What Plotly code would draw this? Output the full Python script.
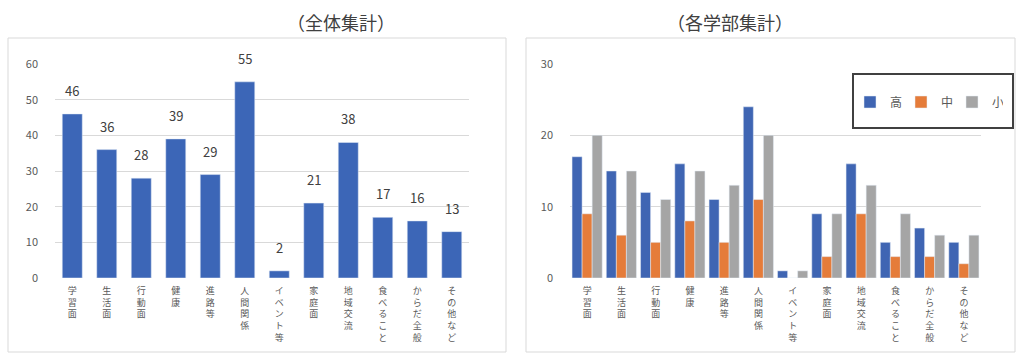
import plotly.graph_objects as go

categories = ["学習面", "生活面", "行動面", "健康", "進路等", "人間関係", "イベント等",
              "家庭面", "地域交流", "食べること", "からだ全般", "その他など"]
total = [46, 36, 28, 39, 29, 55, 2, 21, 38, 17, 16, 13]
high = [17, 15, 12, 16, 11, 24, 1, 9, 16, 5, 7, 5]
middle = [9, 6, 5, 8, 5, 11, 0, 3, 9, 3, 3, 2]
small = [20, 15, 11, 15, 13, 20, 1, 9, 13, 9, 6, 6]
series_names = ["高", "中", "小"]
left_ticks = [0, 10, 20, 30, 40, 50, 60]
right_ticks = [0, 10, 20, 30]

W, H = 1020, 361
PT, PB = 64, 278  # plot top / bottom pixel rows


def py(p):
    return (PB - p) / (PB - PT)


def px(p):
    return p / W


vert = ["<br>".join(list(c)) for c in categories]
font = "Noto Sans CJK JP"
txt = "#595959"

fig = go.Figure()
fig.add_trace(go.Bar(x=categories, y=total, marker_color="#3C66B7", width=0.58,
                     xaxis="x", yaxis="y", showlegend=False))
colors = ["#3F65B3", "#E57C3A", "#A5A5A5"]
for name, vals, col in zip(series_names, [high, middle, small], colors):
    fig.add_trace(go.Bar(x=categories, y=vals, name=name, marker_color=col,
                         xaxis="x2", yaxis="y2"))

annos = []
for c, v in zip(categories, total):
    annos.append(dict(x=c, y=v, xref="x", yref="y", text=str(v), showarrow=False,
                      yanchor="bottom", yshift=12, font=dict(size=13, color="#404040")))
annos.append(dict(x=px(285), y=py(22), xref="paper", yref="paper", text="（全体集計）",
                  showarrow=False, yanchor="middle", font=dict(size=18, color="#404040")))
annos.append(dict(x=px(795), y=py(22), xref="paper", yref="paper", text="（各学部集計）",
                  showarrow=False, yanchor="middle", font=dict(size=18, color="#404040")))

shapes = [
    dict(type="rect", xref="paper", yref="paper", x0=px(8), x1=px(506), y0=py(352), y1=py(38),
         line=dict(color="#D9D9D9", width=1), layer="below"),
    dict(type="rect", xref="paper", yref="paper", x0=px(526), x1=px(1015), y0=py(352), y1=py(38),
         line=dict(color="#D9D9D9", width=1), layer="below"),
    dict(type="rect", xref="paper", yref="paper", x0=px(853), x1=px(1013), y0=py(128), y1=py(74),
         line=dict(color="#404040", width=2), fillcolor="white", layer="below"),
]

xcommon = dict(type="category", range=[-0.5, 11.5], tickmode="array", tickvals=categories,
               ticktext=vert, tickangle=0, showgrid=False, zeroline=False, showline=False,
               ticks="", tickfont=dict(size=9, color=txt, family=font), fixedrange=True,
               ticklabelstandoff=6)
ycommon = dict(showgrid=True, gridcolor="#D9D9D9", gridwidth=1, zeroline=False, showline=False,
               ticks="", tickfont=dict(size=11, color=txt, family=font), ticklabelstandoff=16)

fig.update_layout(
    width=W, height=H,
    margin=dict(l=0, r=0, t=PT, b=H - PB, autoexpand=False),
    paper_bgcolor="white", plot_bgcolor="white",
    font=dict(family=font),
    barmode="group", bargap=0.12, bargroupgap=0,
    xaxis=dict(domain=[px(55), px(469)], anchor="y", **xcommon),
    yaxis=dict(domain=[0, 1], anchor="x", range=[0, 60], tickvals=left_ticks, **ycommon),
    xaxis2=dict(domain=[px(570), px(981)], anchor="y2", **xcommon),
    yaxis2=dict(domain=[0, 1], anchor="x2", range=[0, 30], tickvals=right_ticks, **ycommon),
    legend=dict(orientation="h", x=px(850), xanchor="left", y=py(102), yanchor="middle",
                bgcolor="rgba(0,0,0,0)", borderwidth=0, font=dict(size=12, color=txt),
                itemwidth=30, entrywidth=6, entrywidthmode="pixels", traceorder="normal"),
    annotations=annos, shapes=shapes,
)

fig.write_html("out.html")
